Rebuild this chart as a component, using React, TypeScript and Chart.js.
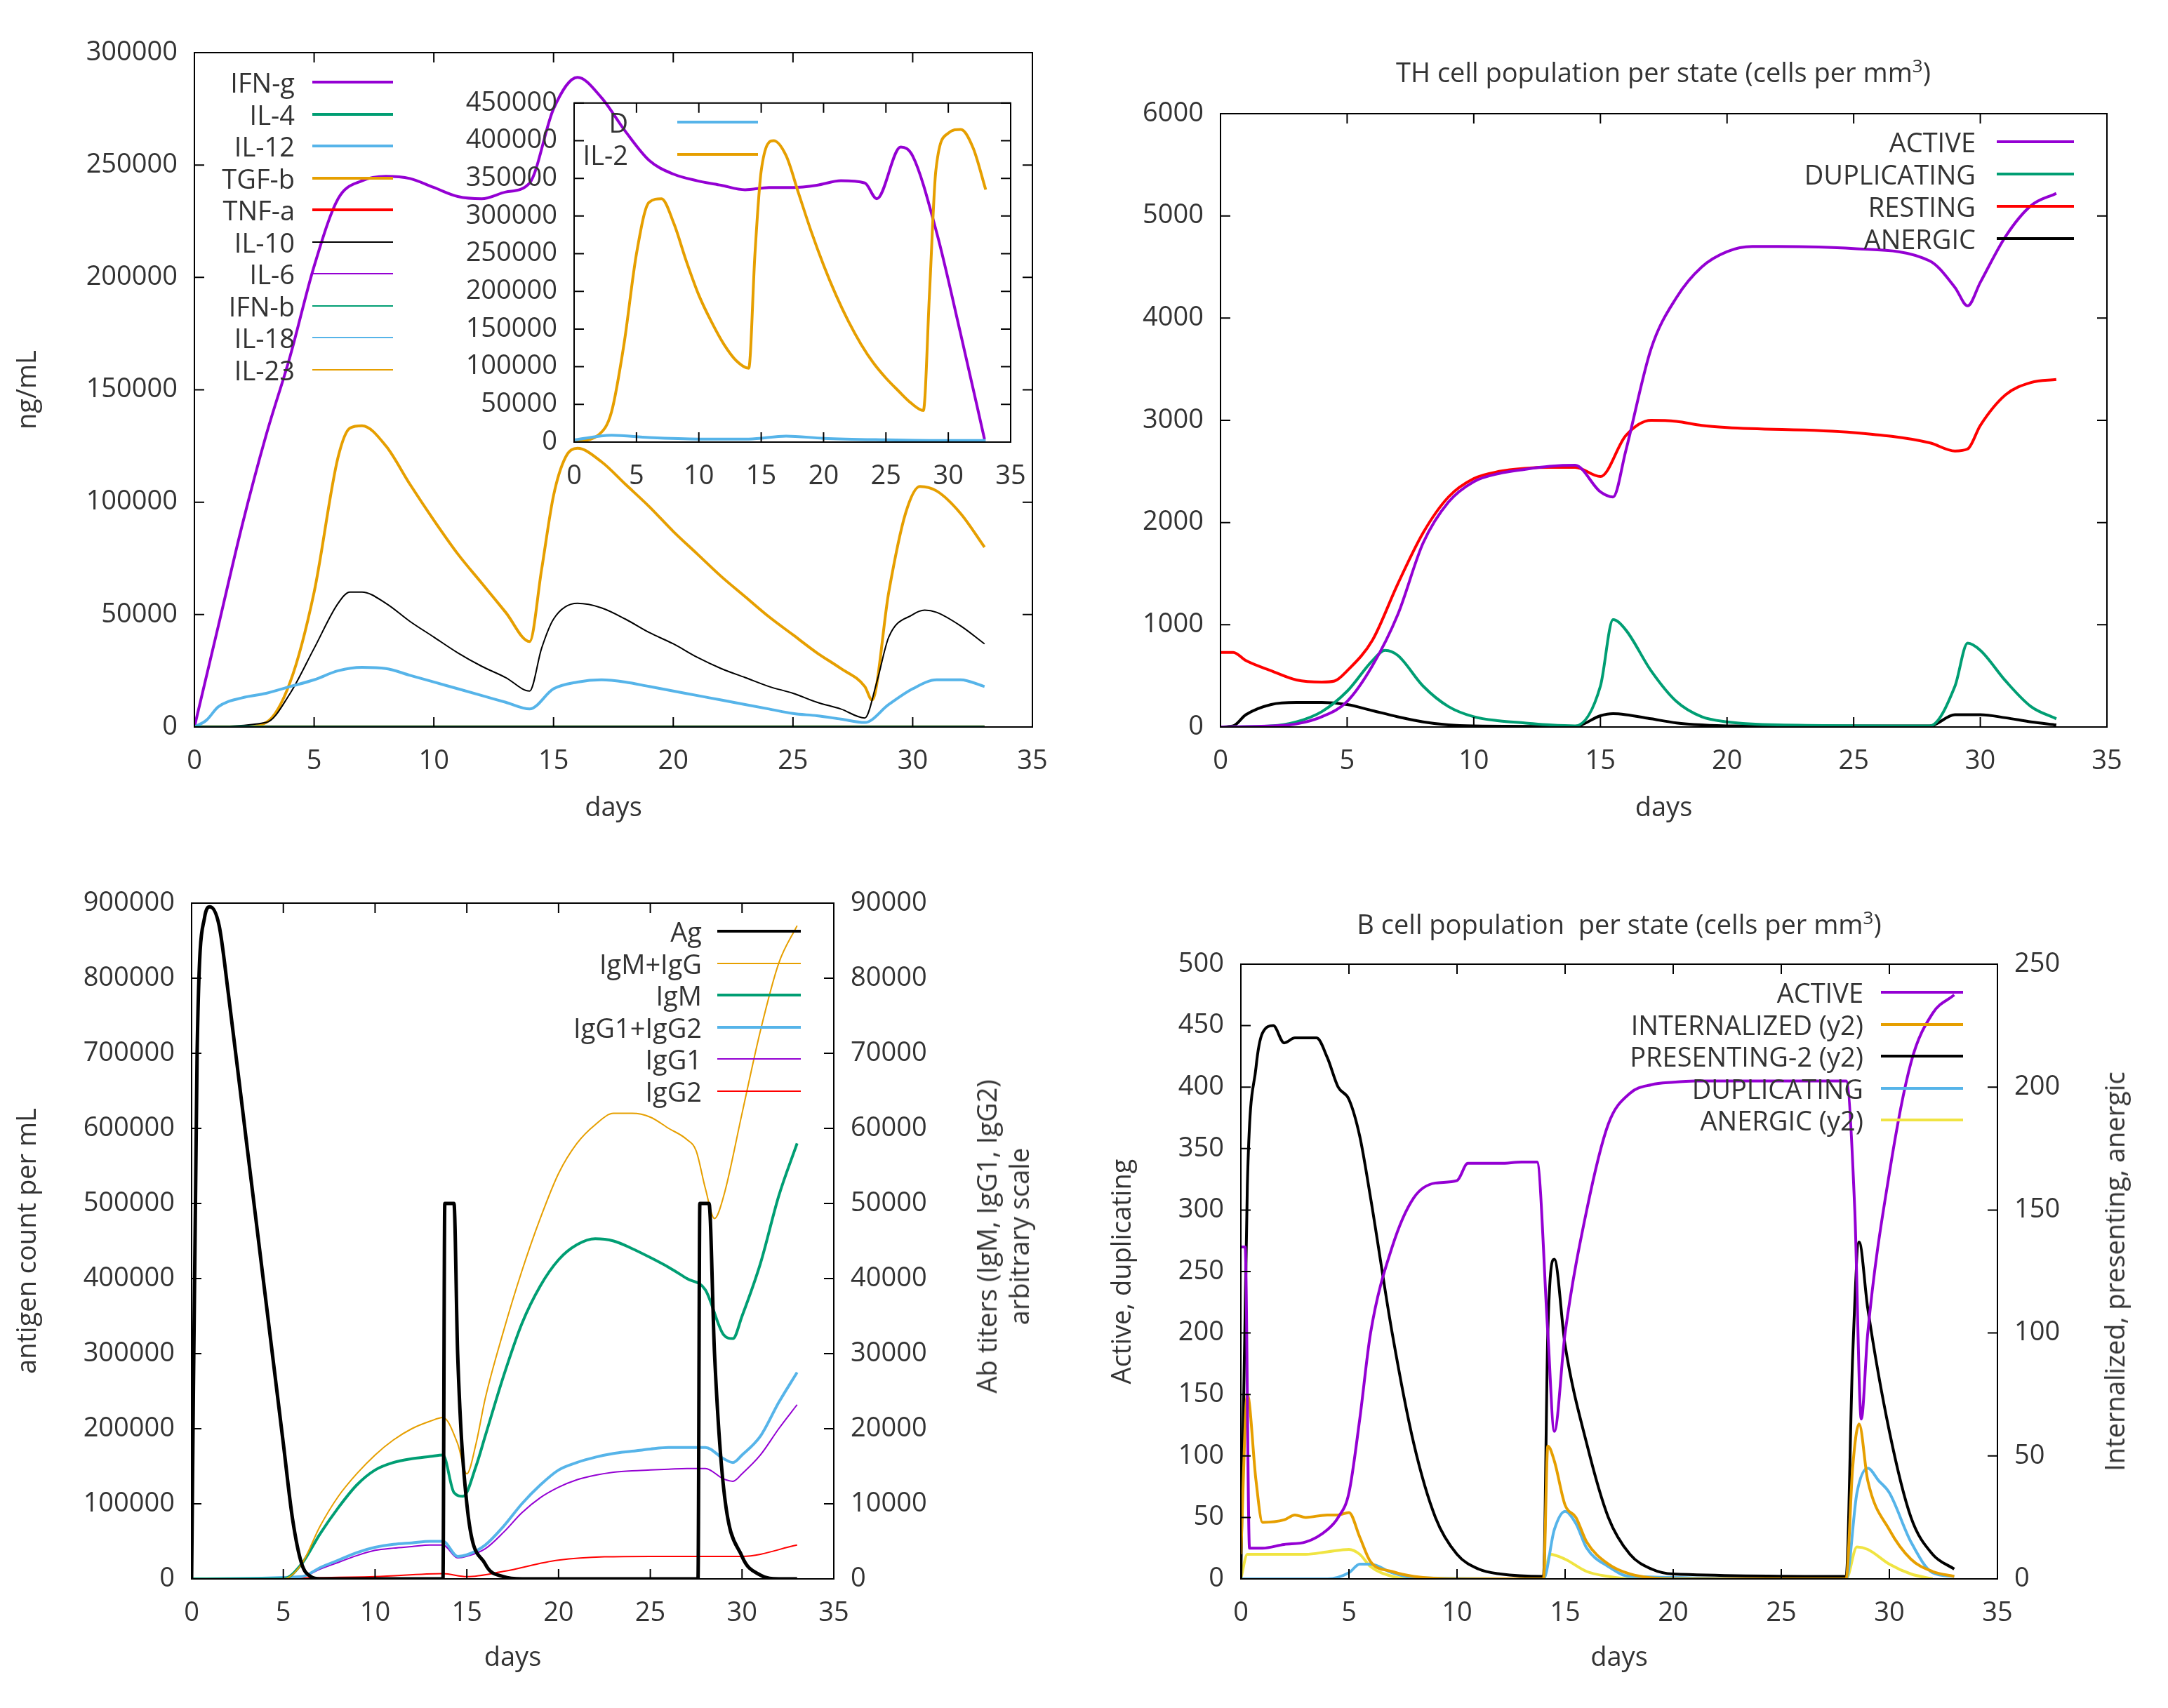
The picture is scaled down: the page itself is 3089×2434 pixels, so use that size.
import React, { useEffect, useRef } from "react";
import { Chart, registerables } from "chart.js";
Chart.register(...registerables);

type P = [number, number][];
const PURPLE = "#9400d3", GREEN = "#009e73", BLUE = "#56b4e9", ORANGE = "#e69f00", RED = "#ff0000", BLACK = "#000000", YELLOW = "#f0e442";
const FONT = "'Open Sans', 'Noto Sans', sans-serif";
const DAY_TICKS = [0, 5, 10, 15, 20, 25, 30, 35];

// ---- Cytokines (top-left) ----
const IFN_G: P = [[0,0],[1,45000],[2,90000],[3,130000],[4,165000],[5,205000],[6,235000],[7,243000],[8,245000],[9,244000],[10,240000],[11,236000],[12,235000],[13,238000],[14,242000],[15,275000],[16,289000],[17,280000],[18,265000],[19,252000],[20,246000],[21,243000],[22,241000],[23,239000],[24,240000],[25,240000],[26,241000],[27,243000],[28,242000],[28.5,235000],[29.5,258000],[30,254000],[31,220000],[32,175000],[33,128000]];
const TGF_B: P = [[0,0],[2,0],[3,2000],[4,20000],[5,60000],[6,120000],[6.5,133000],[7,134000],[8,125000],[9,108000],[10,92000],[11,77000],[12,64000],[13,51000],[14,38000],[14.5,70000],[15,103000],[15.5,120000],[16,124000],[17,118000],[18,108000],[19,98000],[20,87000],[21,77000],[22,67000],[23,58000],[24,49000],[25,41000],[26,33000],[27,26000],[28,18000],[28.3,12000],[29,60000],[29.7,95000],[30.3,107000],[31,105000],[32,95000],[33,80000]];
const IL_10: P = [[0,0],[3,2000],[4,15000],[5,35000],[6,55000],[6.5,60000],[7,60000],[8,55000],[9,47000],[10,40000],[11,33000],[12,27000],[13,22000],[14,16000],[14.5,35000],[15,48000],[16,55000],[17,53000],[18,48000],[19,42000],[20,37000],[21,31000],[22,26000],[23,22000],[24,18000],[25,15000],[26,11000],[27,8000],[28,4000],[28.5,20000],[29,40000],[30,50000],[30.5,52000],[31,51000],[32,45000],[33,37000]];
const IL_12: P = [[0,0],[0.5,3000],[1,9000],[2,13000],[3,15000],[4,18000],[5,21000],[6,25000],[7,26500],[8,26000],[9,23000],[10,20000],[11,17000],[12,14000],[13,11000],[14,8000],[15,17000],[16,20000],[17,21000],[18,20000],[19,18000],[20,16000],[21,14000],[22,12000],[23,10000],[24,8000],[25,6000],[26,5000],[27,3500],[28,2000],[29,10000],[30,17000],[31,21000],[32,21000],[33,18000]];
const ZERO: P = [[0,0],[33,0]];
const IL_2: P = [[0,0],[2,10000],[3,40000],[4,130000],[5,250000],[6,318000],[7,323000],[8,290000],[9,240000],[10,195000],[11,160000],[12,130000],[13,108000],[14,98000],[14.5,250000],[15,360000],[16,400000],[17,380000],[18,330000],[19,280000],[20,235000],[21,195000],[22,160000],[23,130000],[24,105000],[25,85000],[26,68000],[27,52000],[28,42000],[28.5,200000],[29,360000],[30,410000],[31,415000],[32,390000],[33,335000]];
const D_VAL: P = [[0,3000],[3,9000],[6,6000],[10,4000],[14,4000],[17,8000],[20,5000],[25,3000],[30,2000],[33,2000]];

// ---- TH cells (top-right) ----
const TH_ACTIVE: P = [[0,0],[2,10],[3,30],[4,100],[5,250],[6,600],[7,1100],[8,1800],[9,2200],[10,2400],[11,2480],[12,2520],[13,2550],[14,2560],[15,2300],[15.5,2250],[16,2700],[17,3700],[18,4200],[19,4500],[20,4650],[21,4700],[22,4700],[25,4680],[28,4560],[29,4300],[29.5,4120],[30,4350],[31,4800],[32,5100],[33,5220]];
const TH_DUP: P = [[0,0],[2,10],[3,50],[4,150],[5,350],[6,650],[6.5,750],[7,700],[8,400],[9,200],[10,100],[11,60],[12,40],[13,20],[14,10],[15,400],[15.5,1050],[16,950],[17,550],[18,250],[19,100],[20,50],[22,20],[28,10],[29,400],[29.5,820],[30,750],[31,450],[32,200],[33,80]];
const TH_REST: P = [[0,730],[0.5,730],[1,650],[2,550],[3,460],[4,440],[4.5,450],[5,550],[6,850],[7,1400],[8,1900],[9,2250],[10,2430],[11,2500],[12,2530],[13,2540],[14,2540],[15,2450],[16,2850],[17,3000],[18,2990],[19,2950],[20,2930],[25,2880],[28,2780],[29,2700],[29.5,2720],[30,2950],[31,3250],[32,3370],[33,3400]];
const TH_ANERGIC: P = [[0,0],[0.5,10],[1,120],[2,220],[3,240],[4,240],[5,220],[6,160],[7,100],[8,50],[9,20],[10,10],[14,5],[15,110],[15.5,130],[16,120],[17,80],[18,40],[19,20],[20,10],[28,10],[29,120],[30,120],[31,90],[32,50],[33,20]];

// ---- Antigen / antibodies (bottom-left) ----
const AG: P = [[0,0],[0.3,700000],[0.7,880000],[1,895000],[1.5,870000],[2,780000],[3,580000],[4,380000],[5,180000],[5.5,80000],[6,20000],[6.5,3000],[7,0],[13.7,0],[13.8,500000],[14.3,500000],[14.5,300000],[15,100000],[16,20000],[17,3000],[18,0],[27.6,0],[27.7,500000],[28.2,500000],[28.5,300000],[29,120000],[30,30000],[31,5000],[32,0],[33,0]];
const IGM_IGG: P = [[0,0],[5,0],[6,2000],[7,7000],[8,11000],[9,14000],[10,16500],[11,18500],[12,20000],[13,21000],[13.7,21500],[14.5,18000],[15,14000],[15.5,18000],[16,24000],[17,33000],[18,41000],[19,48000],[20,54000],[21,58000],[22,60500],[23,62000],[24,62000],[25,61500],[26,60000],[27,58500],[27.5,57000],[28,52000],[28.5,48000],[29,51000],[30,62000],[31,73000],[32,82000],[33,87000]];
const IGM: P = [[0,0],[5,0],[6,2000],[7,6000],[8,9500],[9,12500],[10,14500],[11,15500],[12,16000],[13,16300],[13.7,16500],[14.3,11500],[14.8,11000],[15.5,15000],[16,19000],[17,27000],[18,34000],[19,39000],[20,42500],[21,44500],[22,45300],[23,45000],[24,44000],[25,42800],[26,41500],[27,40000],[28,38500],[29,32500],[29.5,32000],[30,35000],[31,42000],[32,51000],[33,58000]];
const IGG12: P = [[0,0],[6,300],[7,1500],[8,2500],[9,3500],[10,4200],[11,4600],[12,4800],[13,5000],[13.7,5000],[14.5,3000],[15,3200],[16,4500],[17,7000],[18,10000],[19,12500],[20,14500],[21,15500],[22,16200],[23,16700],[24,17000],[25,17300],[26,17500],[27,17500],[28,17500],[29,16000],[29.5,15500],[30,16500],[31,19000],[32,23500],[33,27500]];
const IGG1: P = [[0,0],[6,300],[7,1300],[8,2200],[9,3100],[10,3800],[11,4100],[12,4300],[13,4500],[13.7,4500],[14.5,2800],[15,3000],[16,4000],[17,6200],[18,8800],[19,10800],[20,12200],[21,13200],[22,13800],[23,14200],[24,14400],[25,14500],[26,14600],[27,14700],[28,14700],[29,13300],[29.5,13000],[30,14000],[31,16500],[32,20000],[33,23200]];
const IGG2: P = [[0,0],[10,300],[13.7,700],[15,300],[17,1000],[20,2500],[25,3000],[28,3000],[30,3000],[33,4500]];

// ---- B cells (bottom-right) ----
const B_ACTIVE: P = [[0,270],[0.2,270],[0.4,25],[1,25],[2,28],[3,30],[4,40],[4.5,50],[5,70],[5.5,130],[6,200],[7,270],[8,310],[9,322],[10,324],[10.5,338],[11,338],[12,338],[13,339],[13.7,339],[14.2,200],[14.5,120],[15,200],[16,300],[17,370],[18,395],[19,402],[20,404],[21,405],[25,405],[28,405],[28.4,300],[28.7,130],[29,200],[30,330],[31,420],[32,460],[33,475]];
const B_DUP: P = [[0,0],[4,0],[5,5],[5.5,12],[6,12],[7,5],[8,1],[14,0],[14.5,40],[15,55],[15.5,45],[16,25],[17,10],[18,2],[28,0],[28.5,70],[29,90],[29.5,80],[30,70],[31,30],[32,5],[33,2]];
const B_INT: P = [[0,10],[0.3,75],[0.7,40],[1,23],[2,24],[2.5,26],[3,25],[4,26],[4.5,26],[5,27],[5.5,17],[6,7],[7,3],[8,1],[10,0],[14,0],[14.2,54],[14.5,48],[15,30],[15.5,25],[16,15],[17,6],[18,2],[20,0],[28,0],[28.3,45],[28.6,63],[29,40],[30,20],[31,8],[32,3],[33,1]];
const B_PRES: P = [[0,0],[0.3,160],[0.7,208],[1,222],[1.5,225],[2,218],[2.5,220],[3,220],[3.5,220],[4,212],[4.5,200],[5,195],[5.5,180],[6,155],[7,100],[8,55],[9,25],[10,10],[11,4],[12,2],[14,1],[14.2,100],[14.5,130],[15,95],[16,55],[17,25],[18,10],[19,4],[20,2],[28,1],[28.3,90],[28.6,137],[29,110],[30,60],[31,25],[32,10],[33,4]];
const B_ANERGIC: P = [[0,0],[0.3,10],[1,10],[3,10],[4,11],[5,12],[5.5,10],[6,5],[7,1],[8,0],[14,0],[14.3,10],[15,8],[16,3],[17,1],[18,0],[28,0],[28.5,13],[29,12],[30,6],[31,2],[32,0]];

type L = { label: string; data: P; color: string; width: number; axis?: string };
const ds = (s: L) => ({
  label: s.label, data: s.data.map(([x, y]) => ({ x, y })), borderColor: s.color, borderWidth: s.width,
  pointRadius: 0, cubicInterpolationMode: "monotone" as const, yAxisID: s.axis || "y", fill: false,
});

const TL_SERIES: L[] = [
  { label: "IL-4", data: ZERO, color: GREEN, width: 4 }, { label: "IL-12", data: IL_12, color: BLUE, width: 4 },
  { label: "IL-10", data: IL_10, color: BLACK, width: 2 }, { label: "IFN-g", data: IFN_G, color: PURPLE, width: 4 },
  { label: "TGF-b", data: TGF_B, color: ORANGE, width: 4 }, { label: "TNF-a", data: ZERO, color: "#c8561a", width: 5 },
];
const TL_LEGEND = [["IFN-g", PURPLE, 4], ["IL-4", GREEN, 4], ["IL-12", BLUE, 4], ["TGF-b", ORANGE, 4], ["TNF-a", RED, 4], ["IL-10", BLACK, 2], ["IL-6", PURPLE, 2], ["IFN-b", GREEN, 2], ["IL-18", BLUE, 2], ["IL-23", ORANGE, 2]] as [string, string, number][];
const INSET_SERIES: L[] = [{ label: "D", data: D_VAL, color: BLUE, width: 4 }, { label: "IL-2", data: IL_2, color: ORANGE, width: 4 }];
const TR_SERIES: L[] = [
  { label: "ACTIVE", data: TH_ACTIVE, color: PURPLE, width: 4 }, { label: "DUPLICATING", data: TH_DUP, color: GREEN, width: 4 },
  { label: "RESTING", data: TH_REST, color: RED, width: 4 }, { label: "ANERGIC", data: TH_ANERGIC, color: BLACK, width: 4 },
];
const BL_SERIES: L[] = [
  { label: "Ag", data: AG, color: BLACK, width: 5 }, { label: "IgM+IgG", data: IGM_IGG, color: ORANGE, width: 2, axis: "y2" },
  { label: "IgM", data: IGM, color: GREEN, width: 4, axis: "y2" }, { label: "IgG1+IgG2", data: IGG12, color: BLUE, width: 4, axis: "y2" },
  { label: "IgG1", data: IGG1, color: PURPLE, width: 2, axis: "y2" }, { label: "IgG2", data: IGG2, color: RED, width: 2, axis: "y2" },
];
const BR_SERIES: L[] = [
  { label: "ACTIVE", data: B_ACTIVE, color: PURPLE, width: 4 }, { label: "INTERNALIZED (y2)", data: B_INT, color: ORANGE, width: 4, axis: "y2" },
  { label: "PRESENTING-2 (y2)", data: B_PRES, color: BLACK, width: 4, axis: "y2" }, { label: "DUPLICATING", data: B_DUP, color: BLUE, width: 4 },
  { label: "ANERGIC (y2)", data: B_ANERGIC, color: YELLOW, width: 4, axis: "y2" },
];

const boxPlugin = {
  id: "box",
  afterDraw(chart: any) {
    const { ctx, chartArea: a, scales } = chart;
    ctx.save(); ctx.strokeStyle = "#000"; ctx.lineWidth = 2;
    ctx.strokeRect(a.left, a.top, a.right - a.left, a.bottom - a.top);
    const T = 14;
    const hasY2 = !!scales.y2;
    ctx.beginPath();
    scales.x.ticks.forEach((t: any) => { const p = scales.x.getPixelForValue(t.value); ctx.moveTo(p, a.bottom); ctx.lineTo(p, a.bottom - T); ctx.moveTo(p, a.top); ctx.lineTo(p, a.top + T); });
    scales.y.ticks.forEach((t: any) => { const p = scales.y.getPixelForValue(t.value); ctx.moveTo(a.left, p); ctx.lineTo(a.left + T, p); if (!hasY2) { ctx.moveTo(a.right, p); ctx.lineTo(a.right - T, p); } });
    if (hasY2) scales.y2.ticks.forEach((t: any) => { const p = scales.y2.getPixelForValue(t.value); ctx.moveTo(a.right, p); ctx.lineTo(a.right - T, p); });
    ctx.stroke(); ctx.restore();
  },
};

type Cfg = { w: number; h: number; area: [number, number, number, number]; series: L[]; yMax: number; yStep: number; y2Max?: number; y2Step?: number; yTitle?: string; yTitlePad?: number; xTitle?: boolean; xTitlePad?: number };

const plain = (v: any) => String(v);

function PanelChart({ cfg, left, top }: { cfg: Cfg; left: number; top: number }) {
  const ref = useRef<HTMLCanvasElement>(null);
  useEffect(() => {
    const [l, t, r, b] = cfg.area;
    const font = { family: FONT, size: 38 };
    const tickCol = "#333";
    const scales: any = {
      x: {
        type: "linear", min: 0, max: 35, afterBuildTicks: (s: any) => { s.ticks = DAY_TICKS.map((v) => ({ value: v })); },
        ticks: { font, color: tickCol, padding: 26, maxRotation: 0, callback: plain }, grid: { display: false, drawTicks: false }, border: { display: false },
        title: { display: cfg.xTitle !== false, text: "days", font, color: tickCol, padding: { top: 0, bottom: cfg.xTitlePad ?? 42 } },
        afterFit: (s: any) => { s.height = cfg.h - b; },
      },
      y: {
        min: 0, max: cfg.yMax, ticks: { stepSize: cfg.yStep, font, color: tickCol, padding: 24, callback: plain }, grid: { display: false, drawTicks: false }, border: { display: false },
        title: { display: !!cfg.yTitle, text: cfg.yTitle, font, color: tickCol, padding: { top: cfg.yTitlePad ?? 17, bottom: 0 } },
        afterFit: (s: any) => { s.width = l; },
      },
    };
    if (cfg.y2Max) {
      scales.y2 = {
        position: "right", min: 0, max: cfg.y2Max, ticks: { stepSize: cfg.y2Step, font, color: tickCol, padding: 24, callback: plain }, grid: { display: false, drawTicks: false }, border: { display: false },
        afterFit: (s: any) => { s.width = cfg.w - r; },
      };
    }
    const chart = new Chart(ref.current!, {
      type: "line",
      data: { datasets: cfg.series.map(ds) as any },
      options: {
        animation: false, responsive: false, devicePixelRatio: 1,
        layout: { padding: { top: t, bottom: 0, left: 0, right: cfg.y2Max ? 0 : cfg.w - r } },
        plugins: { legend: { display: false }, tooltip: { enabled: false }, title: { display: false } },
        scales,
      },
      plugins: [boxPlugin],
    });
    return () => chart.destroy();
  }, []);
  return <canvas ref={ref} width={cfg.w} height={cfg.h} style={{ position: "absolute", left, top, width: cfg.w, height: cfg.h }} />;
}

function Legend({ items, textRight, lineL, lineR, y0, dy }: { items: [string, string, number][]; textRight: number; lineL: number; lineR: number; y0: number; dy: number }) {
  return (
    <>
      {items.map(([label, color, w], i) => (
        <React.Fragment key={i}>
          <div style={{ position: "absolute", right: 3089 - textRight, top: y0 + i * dy - 26, fontFamily: FONT, fontSize: 38, lineHeight: "52px", color: "#333", whiteSpace: "nowrap" }}>{label}</div>
          <div style={{ position: "absolute", left: lineL, width: lineR - lineL, top: y0 + i * dy - w / 2, height: w, background: color }} />
        </React.Fragment>
      ))}
    </>
  );
}

function VText({ lines, cx, cy }: { lines: string[]; cx: number; cy: number }) {
  return (
    <div style={{ position: "absolute", left: cx, top: cy, transform: "translate(-50%, -50%) rotate(-90deg)", textAlign: "center", fontFamily: FONT, fontSize: 38, lineHeight: "46px", color: "#333", whiteSpace: "nowrap" }}>
      {lines.map((s, i) => <div key={i}>{s}</div>)}
    </div>
  );
}

const TL: Cfg = { w: 1545, h: 1217, area: [277, 75, 1471, 1036], series: TL_SERIES, yMax: 300000, yStep: 50000, yTitle: "ng/mL", yTitlePad: 17 };
const INSET: Cfg = { w: 900, h: 720, area: [218, 31, 840, 530], series: INSET_SERIES, yMax: 450000, yStep: 50000, xTitle: false };
const TR: Cfg = { w: 1544, h: 1217, area: [194, 162, 1457, 1036], series: TR_SERIES, yMax: 6000, yStep: 1000 };
const BL: Cfg = { w: 1545, h: 1217, area: [273, 70, 1188, 1033], series: BL_SERIES, yMax: 900000, yStep: 100000, y2Max: 90000, y2Step: 10000, yTitle: "antigen count per mL", yTitlePad: 17, xTitlePad: 48 };
const BR: Cfg = { w: 1544, h: 1217, area: [223, 157, 1301, 1033], series: BR_SERIES, yMax: 500, yStep: 50, y2Max: 250, y2Step: 50, yTitle: "Active, duplicating", yTitlePad: 32, xTitlePad: 48 };

export default function App() {
  const title = (text: React.ReactNode, cx: number, cy: number) => (
    <div style={{ position: "absolute", left: cx - 800, width: 1600, top: cy - 26, textAlign: "center", fontFamily: FONT, fontSize: 38, lineHeight: "52px", color: "#333" }}>{text}</div>
  );
  return (
    <div style={{ position: "absolute", left: 0, top: 0, width: 3089, height: 2434, background: "#fff", overflow: "hidden" }}>
      <PanelChart cfg={TL} left={0} top={0} />
      <PanelChart cfg={INSET} left={600} top={100} />
      <PanelChart cfg={TR} left={1545} top={0} />
      <PanelChart cfg={BL} left={0} top={1217} />
      <PanelChart cfg={BR} left={1545} top={1217} />
      {title(<>TH cell population per state (cells per mm<sup style={{ fontSize: 26 }}>3</sup>)</>, 2370, 93)}
      {title(<>B cell population&nbsp; per state (cells per mm<sup style={{ fontSize: 26 }}>3</sup>)</>, 2307, 1307)}
      <VText lines={["Ab titers (IgM, IgG1, IgG2)", "arbitrary scale"]} cx={1428} cy={1762} />
      <VText lines={["Internalized, presenting, anergic"]} cx={3012} cy={1812} />
      <Legend items={TL_LEGEND} textRight={420} lineL={445} lineR={560} y0={117} dy={45.5} />
      <Legend items={[["D", BLUE, 4], ["IL-2", ORANGE, 4]]} textRight={895} lineL={965} lineR={1080} y0={174} dy={45.5} />
      <Legend items={TR_SERIES.map((s) => [s.label, s.color, 4] as [string, string, number])} textRight={2815} lineL={2845} lineR={2955} y0={202} dy={46} />
      <Legend items={BL_SERIES.map((s) => [s.label, s.color, s.width === 2 ? 2 : 4] as [string, string, number])} textRight={1000} lineL={1022} lineR={1141} y0={1327} dy={45.5} />
      <Legend items={BR_SERIES.map((s) => [s.label, s.color, 4] as [string, string, number])} textRight={2655} lineL={2680} lineR={2797} y0={1414} dy={45.5} />
    </div>
  );
}
